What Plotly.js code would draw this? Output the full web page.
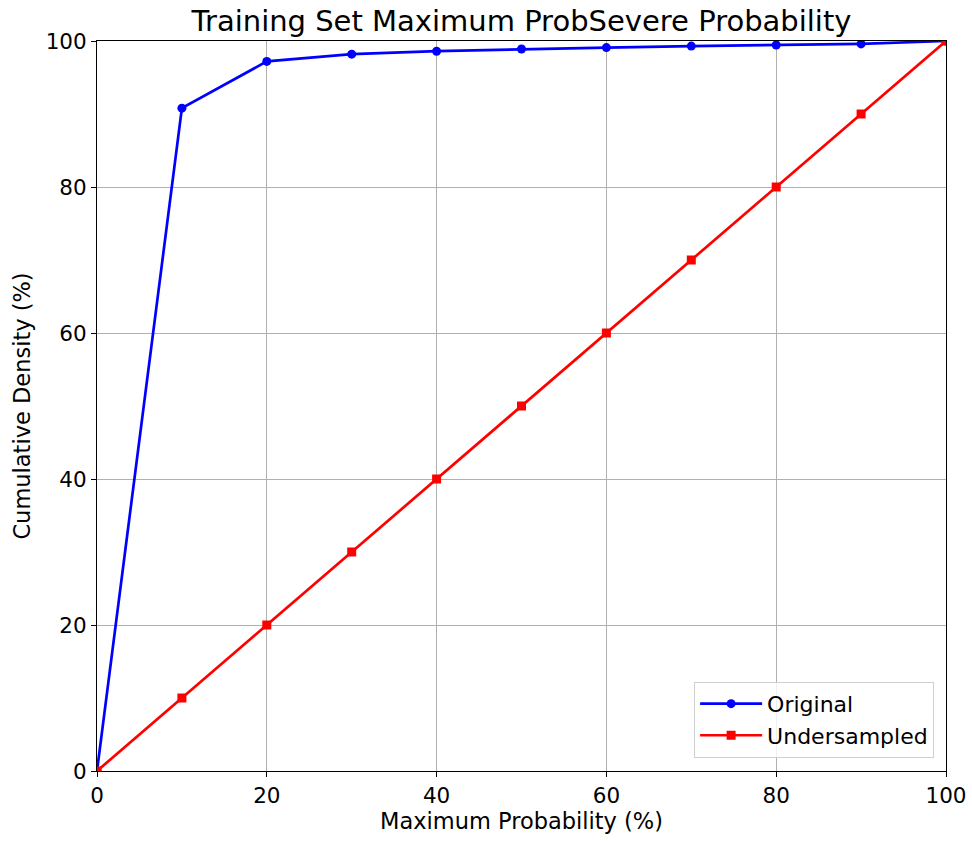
<!DOCTYPE html>
<html>
<head>
<meta charset="utf-8">
<script src="https://cdn.plot.ly/plotly-3.0.1.min.js"></script>
<style>html,body{margin:0;padding:0;background:#fff;}#chart{width:972px;height:842px;}</style>
</head>
<body>
<div id="chart"></div>
<script>
const xValues = [0, 10, 20, 30, 40, 50, 60, 70, 80, 90, 100];
const originalValues = [0, 90.8, 97.2, 98.2, 98.6, 98.9, 99.1, 99.3, 99.45, 99.6, 100];
const undersampledValues = [0, 10, 20, 30, 40, 50, 60, 70, 80, 90, 100];
const tickValues = [0, 20, 40, 60, 80, 100];

const font = "DejaVu Sans, sans-serif";
const traces = [
  {x: xValues, y: originalValues, name: "Original", mode: "lines+markers", type: "scatter",
   line: {color: "#0000ff", width: 2.7}, marker: {color: "#0000ff", size: 9, symbol: "circle"}, cliponaxis: true},
  {x: xValues, y: undersampledValues, name: "Undersampled", mode: "lines+markers", type: "scatter",
   line: {color: "#ff0000", width: 2.7}, marker: {color: "#ff0000", size: 9, symbol: "square"}, cliponaxis: true}
];
const axisCommon = {
  range: [0, 100], tickvals: tickValues, ticks: "outside", ticklen: 5, tickcolor: "#000",
  showline: true, linecolor: "#000", linewidth: 1, mirror: true,
  showgrid: true, gridcolor: "#b0b0b0", gridwidth: 1, zeroline: false,
  tickfont: {family: font, size: 21.5, color: "#000"}
};
const layout = {
  width: 972, height: 842,
  margin: {l: 97, r: 26, t: 41, b: 71},
  paper_bgcolor: "#fff", plot_bgcolor: "#fff",
  font: {family: font, color: "#000"},
  title: {text: "Training Set Maximum ProbSevere Probability", font: {family: font, size: 29, color: "#000"},
          x: 0.5, xref: "paper", y: 0.975, yanchor: "middle"},
  xaxis: Object.assign({}, axisCommon, {title: {text: "Maximum Probability (%)", font: {family: font, size: 22.5}, standoff: 6}}),
  yaxis: Object.assign({}, axisCommon, {title: {text: "Cumulative Density (%)", font: {family: font, size: 22.5}, standoff: 8}}),
  legend: {x: 0.986, y: 0.018, xanchor: "right", yanchor: "bottom", bgcolor: "rgba(255,255,255,0.8)",
           bordercolor: "#d0d0d0", borderwidth: 1, itemwidth: 62, tracegroupgap: 0,
           font: {family: font, size: 22, color: "#000"}},
  showlegend: true
};
Plotly.newPlot("chart", traces, layout, {displayModeBar: false, staticPlot: true});
</script>
</body>
</html>
